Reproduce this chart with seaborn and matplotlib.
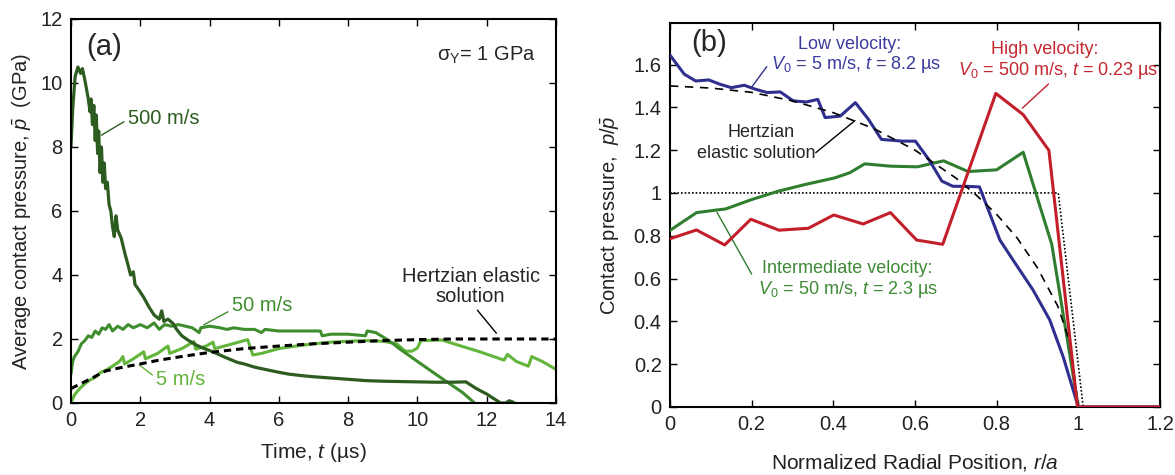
import numpy as np
import pandas as pd
import seaborn as sns
import matplotlib
matplotlib.use("Agg")
import matplotlib.pyplot as plt
from matplotlib.ticker import FuncFormatter

# ---------------- (a) average contact pressure vs time ----------------
t_500 = [0.0, 0.05, 0.12, 0.2, 0.28, 0.33, 0.4, 0.45, 0.5, 0.55, 0.58, 0.62, 0.66, 0.7, 0.73,
         0.77, 0.8, 0.84, 0.88, 0.92, 0.96, 1.0, 1.05, 1.1, 1.15, 1.2, 1.25, 1.3, 1.35, 1.45,
         1.55, 1.65, 1.72, 1.8, 1.85, 1.95, 2.1, 2.25, 2.4, 2.55, 2.62, 2.68, 2.8, 2.95, 3.05,
         3.2, 3.4, 3.6, 3.8, 4.0, 4.2, 4.4, 4.6, 4.8, 5.0, 5.3, 5.6, 6.0, 6.3, 6.7, 7.0, 7.5,
         8.0, 8.5, 9.0, 9.5, 10.0, 10.5, 11.0, 11.4, 11.7, 12.0, 12.4, 12.55, 12.65, 12.75, 12.8]
p_500 = [8.0, 9.2, 10.2, 10.5, 10.3, 10.45, 10.1, 9.8, 9.5, 9.1, 9.5, 8.7, 9.3, 8.2, 9.0,
         7.8, 8.5, 7.2, 8.0, 6.9, 7.5, 6.7, 6.9, 6.2, 6.0, 5.5, 5.2, 5.85, 5.4, 5.15,
         4.7, 4.3, 4.0, 4.1, 3.7, 3.55, 3.3, 3.0, 2.75, 2.62, 2.88, 2.55, 2.62, 2.48, 2.3,
         2.1, 1.95, 1.82, 1.72, 1.64, 1.55, 1.45, 1.36, 1.27, 1.22, 1.12, 1.05, 0.96, 0.9,
         0.85, 0.82, 0.78, 0.74, 0.7, 0.68, 0.67, 0.66, 0.65, 0.65, 0.66, 0.45, 0.28, 0.0,
         0.0, 0.07, 0.03, 0.0]

t_50 = [0.0, 0.05, 0.1, 0.2, 0.3, 0.4, 0.5, 0.6, 0.7, 0.8, 0.9, 1.0, 1.1, 1.2, 1.35, 1.5,
        1.65, 1.8, 2.0, 2.2, 2.4, 2.55, 2.7, 2.9, 3.1, 3.3, 3.5, 3.7, 3.75, 4.0, 4.3, 4.5,
        4.7, 5.0, 5.3, 5.5, 5.6, 6.0, 6.5, 7.0, 7.2, 7.25, 7.5, 8.0, 8.5, 8.55, 8.8, 9.1,
        9.3, 9.5, 10.0, 10.5, 11.0, 11.3, 11.65]
p_50 = [0.9, 1.3, 1.45, 1.6, 1.85, 1.95, 2.1, 2.05, 2.25, 2.15, 2.35, 2.3, 2.45, 2.25, 2.4,
        2.3, 2.45, 2.35, 2.45, 2.35, 2.5, 2.3, 2.45, 2.4, 2.45, 2.4, 2.35, 2.2, 2.35, 2.4,
        2.35, 2.3, 2.35, 2.3, 2.3, 2.2, 2.3, 2.25, 2.25, 2.25, 2.25, 2.1, 2.15, 2.15, 2.1,
        2.25, 2.2, 2.0, 1.85, 1.68, 1.3, 0.92, 0.55, 0.33, 0.0]

t_5 = [0.0, 0.1, 0.25, 0.4, 0.55, 0.7, 0.85, 1.0, 1.2, 1.4, 1.5, 1.55, 1.8, 2.1, 2.15, 2.5,
       2.8, 2.85, 3.2, 3.55, 3.6, 3.9, 4.1, 4.15, 4.5, 5.1, 5.25, 5.5, 6.0, 6.5, 7.0, 7.5,
       8.0, 8.5, 9.0, 9.4, 9.65, 9.85, 10.0, 10.1, 10.7, 11.2, 11.8, 12.5, 12.6, 12.85,
       13.2, 13.3, 13.6, 14.0]
p_5 = [0.0, 0.25, 0.45, 0.6, 0.72, 0.8, 0.95, 1.02, 1.15, 1.3, 1.45, 1.22, 1.38, 1.6, 1.38,
       1.55, 1.78, 1.55, 1.7, 1.92, 1.68, 1.78, 1.9, 1.7, 1.8, 1.98, 1.5, 1.55, 1.7, 1.78,
       1.85, 1.9, 1.93, 1.95, 1.93, 1.85, 1.62, 1.62, 1.72, 1.95, 1.97, 1.8, 1.6, 1.34,
       1.52, 1.3, 1.15, 1.45, 1.3, 1.05]

t_hertz = [0.0, 0.5, 1.0, 1.5, 2.0, 2.5, 3.0, 3.5, 4.0, 5.0, 6.0, 7.0, 8.0, 9.0, 10.0,
           11.0, 12.0, 13.0, 14.0]
p_hertz = [0.45, 0.72, 1.0, 1.12, 1.22, 1.33, 1.42, 1.5, 1.58, 1.7, 1.78, 1.85, 1.9, 1.95,
           1.98, 2.0, 2.0, 2.0, 2.0]

# ---------------- (b) pressure distribution vs radius ----------------
r_low = [0.0, 0.035, 0.063, 0.095, 0.122, 0.15, 0.182, 0.21, 0.238, 0.27, 0.302, 0.334,
         0.362, 0.38, 0.417, 0.454, 0.486, 0.518, 0.569, 0.601, 0.634, 0.666, 0.693, 0.726,
         0.758, 0.808, 0.84, 0.889, 0.93, 0.963, 1.0, 1.2]
p_low = [1.644, 1.555, 1.523, 1.528, 1.508, 1.492, 1.503, 1.484, 1.469, 1.472, 1.43, 1.425,
         1.437, 1.352, 1.359, 1.422, 1.344, 1.25, 1.242, 1.242, 1.156, 1.055, 1.031, 1.031,
         1.028, 0.78, 0.687, 0.547, 0.407, 0.234, 0.0, 0.0]

r_mid = [0.0, 0.065, 0.113, 0.136, 0.2, 0.265, 0.33, 0.403, 0.44, 0.477, 0.54, 0.606, 0.67,
         0.73, 0.8, 0.865, 0.935, 1.0, 1.2]
p_mid = [0.825, 0.908, 0.92, 0.925, 0.969, 1.008, 1.039, 1.07, 1.094, 1.136, 1.125, 1.122,
         1.15, 1.1, 1.108, 1.19, 0.76, 0.0, 0.0]

r_high = [0.0, 0.065, 0.134, 0.198, 0.267, 0.339, 0.401, 0.473, 0.54, 0.604, 0.668, 0.798,
          0.865, 0.928, 0.998, 1.2]
p_high = [0.786, 0.827, 0.757, 0.877, 0.826, 0.835, 0.897, 0.855, 0.908, 0.78, 0.76, 1.465,
          1.366, 1.199, 0.0, 0.0]

r_hertz = [0.0, 0.1, 0.2, 0.3, 0.4, 0.5, 0.6, 0.7, 0.75, 0.8, 0.85, 0.9, 0.95, 0.98, 1.0]
p_hertz_r = [1.5, 1.49, 1.47, 1.43, 1.375, 1.3, 1.2, 1.07, 0.99, 0.9, 0.79, 0.65, 0.47, 0.3, 0.0]

r_mean = [0.0, 0.951, 1.012, 1.2]
p_mean = [1.0, 1.0, 0.0, 0.0]

# ---------------- style ----------------
sns.set_style("ticks")
plt.rcParams["font.family"] = ["Liberation Sans", "DejaVu Sans"]
plt.rcParams["mathtext.fontset"] = "custom"
plt.rcParams["mathtext.rm"] = "Liberation Sans"
plt.rcParams["mathtext.it"] = "Liberation Sans:italic"
plt.rcParams["mathtext.bf"] = "Liberation Sans:bold"

DARK = "#2d5c20"
MID = "#3f8e2e"
LIGHT = "#63b53c"
BLUE = "#2f2f8f"
GREEN_B = "#2f7d2f"
RED = "#c21f2b"
TEXT_BLUE = "#3b3b9e"
TEXT_GREEN = "#3f8a36"
TEXT_RED = "#c4272f"
TICK_COLOR = "#222222"

fig = plt.figure(figsize=(11.75, 4.75), dpi=100)
ax_a = fig.add_axes([0.0604, 0.1516, 0.4128, 0.8084])
ax_b = fig.add_axes([0.5702, 0.1432, 0.4170, 0.8084])


def draw(ax, x, y, **kw):
    sns.lineplot(x=x, y=y, ax=ax, sort=False, estimator=None, **kw)


# ---- panel (a)
draw(ax_a, t_5, p_5, color=LIGHT, lw=2.2)
draw(ax_a, t_50, p_50, color=MID, lw=2.2)
draw(ax_a, t_500, p_500, color=DARK, lw=2.3)
draw(ax_a, t_hertz, p_hertz, color="black", lw=2.2, linestyle=(0, (2.4, 1.6)), zorder=5)

ax_a.set_xlim(0, 14)
ax_a.set_ylim(0, 12)
ax_a.set_xticks(range(0, 15, 2))
ax_a.set_yticks(range(0, 13, 2))
ax_a.set_xlabel("Time, $t$ (µs)", fontsize=15, labelpad=8)
ax_a.set_ylabel(r"Average contact pressure, $\bar{p}$  (GPa)", fontsize=14.5, labelpad=5)

ax_a.text(0.45, 11.13, "(a)", fontsize=21, ha="left", va="center")
ax_a.text(11.98, 10.87, r"σ$_\mathregular{Y}$= 1 GPa", fontsize=14.5, ha="center", va="center")
ax_a.text(1.64, 8.9, "500 m/s", fontsize=14.5, color=DARK, ha="left", va="center")
ax_a.plot([1.53, 0.88], [8.79, 8.37], color=DARK, lw=1.0)
ax_a.text(4.64, 3.06, "50 m/s", fontsize=14.5, color=MID, ha="left", va="center")
ax_a.plot([4.53, 3.83], [2.85, 2.44], color=MID, lw=1.0)
ax_a.text(2.46, 0.72, "5 m/s", fontsize=14.5, color=LIGHT, ha="left", va="center")
ax_a.plot([2.35, 1.97], [0.875, 1.19], color=LIGHT, lw=1.0)
ax_a.text(11.56, 3.95, "Hertzian elastic", fontsize=14.5, ha="center", va="center")
ax_a.text(11.51, 3.32, "solution", fontsize=14.5, ha="center", va="center")
ax_a.plot([11.73, 12.28], [2.9, 2.18], color="black", lw=1.0)

# ---- panel (b)
draw(ax_b, r_mean, p_mean, color="black", lw=1.2, linestyle=(0, (1, 1.2)), zorder=3)
draw(ax_b, r_mid, p_mid, color=GREEN_B, lw=2.2, zorder=4)
draw(ax_b, r_low, p_low, color=BLUE, lw=2.2, zorder=5)
draw(ax_b, r_hertz, p_hertz_r, color="black", lw=1.2, linestyle=(0, (5, 4)), zorder=6)
draw(ax_b, r_high, p_high, color=RED, lw=2.2, zorder=7)

ax_b.set_xlim(0, 1.2)
ax_b.set_ylim(0, 1.794)
ax_b.set_xticks(np.arange(0, 1.21, 0.2))
ax_b.set_yticks(np.arange(0, 1.61, 0.2))
fmt = FuncFormatter(lambda v, _: f"{v:g}")
ax_b.xaxis.set_major_formatter(fmt)
ax_b.yaxis.set_major_formatter(fmt)
ax_b.set_xlabel("Normalized Radial Position, $r/a$", fontsize=15, labelpad=13)
ax_b.set_ylabel(r"Contact pressure,  $p/\bar{p}$", fontsize=14.5, labelpad=9)

ax_b.text(0.053, 1.70, "(b)", fontsize=21, ha="left", va="center")
ax_b.text(0.439, 1.695, "Low velocity:", fontsize=13, color=TEXT_BLUE, ha="center", va="center")
ax_b.text(0.455, 1.598, r"$\mathit{V}_{\mathit{0}}$ = 5 m/s, $\mathit{t}$ = 8.2 µs",
          fontsize=13, color=TEXT_BLUE, ha="center", va="center")
ax_b.plot([0.237, 0.2], [1.59, 1.494], color=BLUE, lw=1.0)
ax_b.text(0.917, 1.668, "High velocity:", fontsize=13, color=TEXT_RED, ha="center", va="center")
ax_b.text(0.95, 1.57, r"$\mathit{V}_{\mathit{0}}$ = 500 m/s, $\mathit{t}$ = 0.23 µs",
          fontsize=13, color=TEXT_RED, ha="center", va="center")
ax_b.plot([0.927, 0.863], [1.509, 1.396], color=RED, lw=1.0)
ax_b.text(0.223, 1.282, "Hertzian", fontsize=13, ha="center", va="center")
ax_b.text(0.211, 1.182, "elastic solution", fontsize=13, ha="center", va="center")
ax_b.plot([0.357, 0.453], [1.188, 1.338], color="black", lw=1.0)
ax_b.text(0.434, 0.648, "Intermediate velocity:", fontsize=13, color=TEXT_GREEN,
          ha="center", va="center")
ax_b.text(0.436, 0.547, r"$\mathit{V}_{\mathit{0}}$ = 50 m/s, $\mathit{t}$ = 2.3 µs",
          fontsize=13, color=TEXT_GREEN, ha="center", va="center")
ax_b.plot([0.2, 0.115], [0.621, 0.91], color=GREEN_B, lw=1.0)

for ax in (ax_a, ax_b):
    ax.tick_params(direction="in", top=True, right=True, length=5, width=1.0,
                   labelsize=14.5, colors="black", labelcolor=TICK_COLOR, pad=6)
    for s in ax.spines.values():
        s.set_visible(True)
        s.set_linewidth(1.5)
        s.set_color("black")
    ax.xaxis.label.set_color(TICK_COLOR)
    ax.yaxis.label.set_color(TICK_COLOR)

fig.savefig("out.png", dpi=100, facecolor="white")
